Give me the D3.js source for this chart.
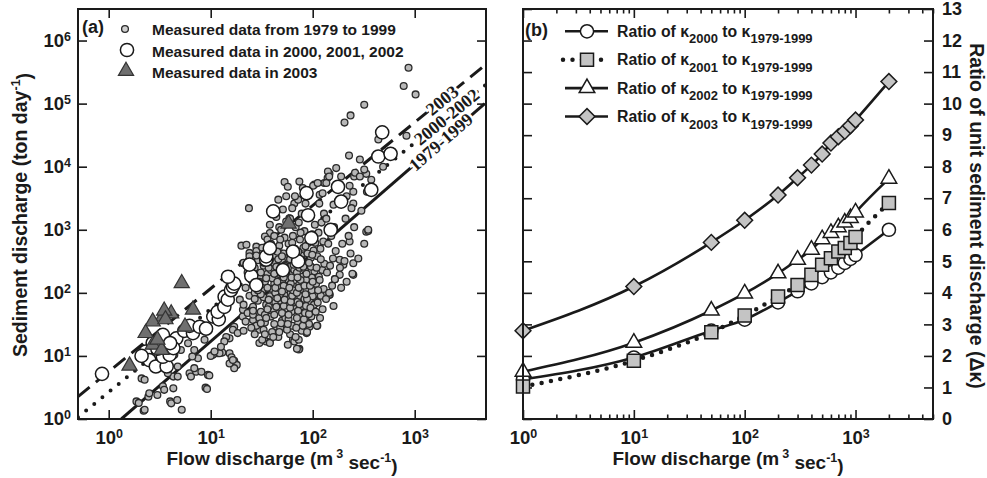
<!DOCTYPE html>
<html>
<head>
<meta charset="utf-8">
<script src="https://cdn.jsdelivr.net/npm/d3@7"></script>
<style>
body{margin:0;background:#fff;}
svg text{font-family:"Liberation Sans",Arial,sans-serif;font-weight:bold;fill:#1a1a1a;}
.tick line{stroke:#1a1a1a;stroke-width:1.6;}
.lbl{font-family:"Liberation Serif","Times New Roman",serif !important;}
</style>
</head>
<body>
<svg id="chart" width="987" height="478"></svg>
<script>
// ---------- panel (a) data : [flow discharge, sediment discharge] ----------
const pts7999 = [
 [1.87,1.9],[2.2,1.35],[2.25,1.4],[1.97,1.8],[2.45,2.26],[2.5,2.55],[3.0,2.4],[3.4,3.3],[3.5,2.9],[4.0,1.9],
 [4.1,1.77],[4.7,2.0],[5.2,1.4],[4.3,3.06],[8.9,3.14],[9.2,3.0],[2.1,4.4],[2.25,4.2],[4.3,4.7],[4.75,4.7],
 [6.2,5.3],[6.4,4.7],[7.2,5.6],[8.1,5.6],[9.4,5.0],[9.7,4.9],[6.9,6.4],[4.75,6.8],[3.8,5.3],
 [15.3,11],[16,9.5],[17,8.4],[18,7.2],[17,6.4],[15.3,7.6],[16.5,8.6],[11.7,11],[10.5,10.4],[13,11.3],
 [12.2,11],[7.5,9.2],[10,10],[20.6,42],[17,29],[16.5,26],[18.4,23],[15.3,19],[14.2,20],[13.6,17],
 [12.6,14],[10.9,11.7],[5.1,12.4],[4.4,10.4],[6.6,9.8],[6.0,15.9],[8.7,18],[6.9,12.4],[20,560],[20.7,54],
 [19.3,78],[22.4,580],[23.7,2200],[20.7,295],[38,890],[53,5700],
 [26,37],[30,26],[35,17],[30,16],[38,16.5],[44,29],[55,27],[64,18],[74,13],[93,29],[87,42],[117,90],
 [147,93],[250,193],[250,295],[335,930],[350,960],[230,650],[200,280],[184,335],[165,165],[184,193],
 [145,93],[126,98],[110,98],[100,82],[90,42],[78,42],[111,30],[87,23],[66,17],[73,12.7],
 [870,370000],[780,190000],[1020,140000],[320,96000],[235,65000],[205,50000],[830,31000],[227,15000],
 [290,13000],[335,7700],[255,7000],[170,9500],[146,7700],[140,6600],[190,7000],[130,5500],[250,4000],
 [375,6200],[490,10000],[117,3600],[320,9000],[215,3400],[250,2600],[350,1000],[440,27000],
 [24,430],[28,540],[34,780],[47,1100],[59,1520],[66,2600],[72,3000],[55,3400],[80,4600],[104,5200],
 [136,5500],[141,8400],[74,5800],
 [21,25],[22,35],[23,48],[21,65],[24,90],[22,120],[25,160],[23,210],[21,300],[24,380],[26,45],
 [27,22],[28,30],[26,60],[29,75],[27,100],[28,135],[30,180],[27,250],[29,330],[28,460],[30,40],[26,140],
 [32,18],[33,26],[34,34],[31,50],[35,65],[33,85],[32,110],[34,150],[36,200],[33,270],[35,360],[32,520],
 [36,700],[34,45],[31,95],
 [38,16],[40,24],[42,32],[39,42],[41,55],[43,70],[38,88],[40,115],[42,140],[44,175],[39,230],[41,300],
 [43,390],[40,520],[42,800],[38,1200],[44,1600],[37,60],[43,100],[40,170],
 [46,20],[48,28],[50,36],[52,46],[47,58],[49,74],[53,92],[46,120],[51,150],[54,190],[48,250],[50,320],
 [52,420],[47,560],[53,750],[49,1000],[55,1350],[51,2100],[46,3000],[54,40],[48,85],[52,130],[46,200],[55,280],
 [57,15],[60,22],[63,30],[58,38],[62,50],[65,62],[59,80],[61,100],[67,125],[58,160],[64,200],[60,260],
 [66,340],[62,450],[58,600],[64,800],[68,1100],[60,1500],[63,2200],[67,3400],[57,4800],[65,70],[61,140],
 [66,230],[59,380],
 [70,13],[73,18],[78,25],[72,33],[76,44],[80,56],[71,72],[75,90],[82,110],[74,140],[79,180],[84,230],
 [72,300],[77,390],[81,520],[75,700],[83,950],[73,1300],[78,1800],[85,2600],[76,60],[83,80],[70,210],
 [88,24],[92,32],[97,42],[90,55],[95,70],[100,88],[87,110],[93,140],[98,175],[104,220],[89,280],[96,360],
 [102,470],[91,620],[99,850],[105,1200],[94,1600],[101,5000],[103,65],[86,160],
 [110,30],[118,40],[125,55],[112,70],[120,90],[128,115],[108,140],[115,180],[124,230],[130,290],[111,380],
 [119,500],[127,650],[114,900],[122,1300],[129,1800],[116,2600],[125,3800],[112,5500],
 [160,62],[135,80],[145,100],[155,130],[165,165],[138,210],[148,270],[158,350],[168,460],[142,600],
 [152,800],[162,1100],[136,1500],[160,2500],[145,7000],
 [190,120],[215,150],[245,200],[185,250],[205,320],[235,420],[195,600],[225,800],[255,1100],[210,1500],
 [240,2200],[195,3000],[230,5000],[260,8000],[280,350],[320,600],[300,2000],[340,4000],[290,7000],
 // dense core
 [25,28],[26,52],[27,80],[29,110],[30,150],[31,210],[33,300],[25,200],[28,390],[31,33],
 [34,22],[35,40],[36,55],[37,78],[36,120],[35,170],[37,250],[38,330],[36,450],[39,600],
 [41,20],[42,45],[44,60],[45,82],[43,120],[45,150],[42,200],[44,260],[46,340],[45,450],
 [47,24],[49,33],[50,48],[52,62],[53,78],[50,105],[52,175],[49,210],[53,270],[50,380],[48,700],
 [56,26],[57,32],[58,45],[60,58],[61,72],[63,90],[64,110],[59,120],[62,175],[65,280],[60,340],[67,500],[63,620],
 [68,20],[69,28],[70,40],[72,52],[74,66],[70,100],[73,120],[76,160],[71,175],[74,250],[78,330],[72,450],[76,900],
 [80,30],[82,38],[84,48],[86,62],[88,80],[85,95],[83,130],[87,200],[81,260],[89,420],[85,550],
 [92,46],[95,58],[98,110],[94,130],[100,150],[96,260],[92,300],[99,400],[107,50],[113,110],[117,160],
 [109,250],[120,340],[106,620]
];
const pts0002 = [
 [0.86,5.2],[2.3,11.7],[2.5,8.6],[2.9,6.8],[3.7,6.8],[3.4,9.7],[3.96,10.4],[2.7,16],[3.4,21.5],[4.6,19],
 [4.3,13.3],[3.0,13],[2.1,10],[4.0,16],[5.5,25],[6.7,23],[6.2,30],[7.8,29],[9,27],[10.6,42],[12,38],
 [11.7,50],[13.6,60],[13.7,87],[14.7,78],[15.8,110],[16.5,126],[17,140],[14.8,180],[25,186],[28,133],
 [24,280],[35,335],[35,380],[38,510],[51,230],[72,315],[64,450],[97,740],[41,1950],[87,3800],[90,1700],
 [150,1000],[177,4800],[190,2800],[375,4300],[440,14500],[580,16000],[480,35000]
];
const pts2003 = [
 [1.6,7],[5.2,142],[6.7,54],[5.6,29],[3.4,42],[4.1,47],[3.5,52],[2.7,35],[2.3,23],[2.7,15],[3.3,12.4],
 [3.0,18],[3.6,38],[58,1250]
];
// regression lines (end points) and label anchor discharge
const line7999 = [[1.33,1],[4860,100000]];
const line0002 = [[0.5,1.07],[5000,200000]];
const line2003 = [[0.5,2.26],[5000,420000]];
const lineNames = ["2003","2000-2002","1979-1999"];
const labelQ = [1850,2050,1800];

// ---------- panel (b) data ----------
const qB = [1,10,50,100,200,300,400,500,600,700,800,900,1000,2000];
const r2000 = [1.25,1.95,2.8,3.15,3.7,4.05,4.3,4.5,4.65,4.8,4.95,5.08,5.2,6.0];
const r2001 = [1.03,1.85,2.75,3.28,3.88,4.25,4.57,4.89,5.1,5.31,5.42,5.58,5.77,6.85];
const r2002 = [1.5,2.42,3.44,3.98,4.62,5.05,5.37,5.7,5.9,6.08,6.23,6.37,6.55,7.62];
const r2003 = [2.8,4.2,5.6,6.3,7.1,7.65,8.05,8.4,8.75,8.95,9.12,9.3,9.48,10.7];
const legB = ["2000","2001","2002","2003"];

const ink = "#1a1a1a";
const svg = d3.select("#chart");

function powTicks(g){
  g.selectAll(".tick text").each(function(d){
    const t = d3.select(this);
    t.text(null);
    t.append("tspan").text("10");
    t.append("tspan").attr("dy","-0.5em").attr("font-size",12.5).text(Math.round(Math.log10(d)));
  });
}
function noDomain(g){ g.select(".domain").remove(); }

// ================= panel (a) =================
const A = {l:78, r:486, t:9, b:419};
const xa = d3.scaleLog().domain([0.5,5000]).range([A.l,A.r]);
const ya = d3.scaleLog().domain([1,Math.pow(10,6.5)]).range([A.b,A.t]);
const decXa = [1,10,100,1000];
const decYa = [1,10,100,1e3,1e4,1e5,1e6];

const ga = svg.append("g");
ga.append("defs").append("clipPath").attr("id","clipA")
  .append("rect").attr("x",A.l).attr("y",A.t).attr("width",A.r-A.l).attr("height",A.b-A.t);

ga.append("g").attr("transform","translate(0,"+A.b+")")
  .call(d3.axisBottom(xa).tickValues(decXa).tickSize(-9).tickPadding(12))
  .call(noDomain).call(powTicks).attr("font-size",18.5);
ga.append("g").attr("transform","translate(0,"+A.t+")")
  .call(d3.axisTop(xa).tickValues(decXa).tickSize(-9).tickFormat(""))
  .call(noDomain);
ga.append("g").attr("transform","translate("+A.l+",0)")
  .call(d3.axisLeft(ya).tickValues(decYa).tickSize(-9).tickPadding(7))
  .call(noDomain).call(powTicks).attr("font-size",18.5);
ga.append("g").attr("transform","translate("+A.r+",0)")
  .call(d3.axisRight(ya).tickValues(decYa).tickSize(-9).tickFormat(""))
  .call(noDomain);

// regression lines
const lineA = d3.line().x(d => xa(d[0])).y(d => ya(d[1]));
const lineSet = [line2003, line0002, line7999];
const lineDash = ["15 8", "0 10.5", null];
const lg = ga.append("g").attr("clip-path","url(#clipA)");
lineSet.forEach((ln,i) => {
  lg.append("path").attr("d",lineA(ln)).attr("fill","none").attr("stroke",ink)
    .attr("stroke-width", i==1 ? 4 : 3)
    .attr("stroke-linecap", i==1 ? "round" : "butt")
    .attr("stroke-dasharray", lineDash[i]);
});
lineSet.forEach((ln,i) => {
  const x0 = xa(ln[0][0]), y0 = ya(ln[0][1]), x1 = xa(ln[1][0]), y1 = ya(ln[1][1]);
  const px = xa(labelQ[i]);
  const py = y0 + (y1-y0)*(px-x0)/(x1-x0);
  const ang = Math.atan2(y1-y0, x1-x0)*180/Math.PI;
  ga.append("text").attr("class","lbl")
    .attr("transform","translate("+px+","+py+") rotate("+ang+")")
    .attr("text-anchor","middle").attr("dy","0.35em")
    .attr("font-size",18)
    .attr("stroke","#fff").attr("stroke-width",5).attr("paint-order","stroke")
    .text(lineNames[i]);
});

// measured points
const triA = d3.symbol().type(d3.symbolTriangle).size(100);
ga.append("g").selectAll("circle").data(pts7999).join("circle")
  .attr("cx",d => xa(d[0])).attr("cy",d => ya(d[1])).attr("r",3.4)
  .attr("fill","#b8b8b8").attr("stroke","#2a2a2a").attr("stroke-width",1.3);
ga.append("g").selectAll("circle").data(pts0002).join("circle")
  .attr("cx",d => xa(d[0])).attr("cy",d => ya(d[1])).attr("r",6.6)
  .attr("fill","#fff").attr("stroke",ink).attr("stroke-width",1.5);
ga.append("g").selectAll("path").data(pts2003).join("path")
  .attr("d",triA).attr("transform",d => "translate("+xa(d[0])+","+ya(d[1])+")")
  .attr("fill","#6f6f6f").attr("stroke","#333").attr("stroke-width",1.2);

ga.append("rect").attr("x",A.l).attr("y",A.t).attr("width",A.r-A.l).attr("height",A.b-A.t)
  .attr("fill","none").attr("stroke",ink).attr("stroke-width",2);

// legend (a)
ga.append("text").attr("x",82).attr("y",33).attr("font-size",18).text("(a)");
ga.append("circle").attr("cx",125).attr("cy",29).attr("r",3.4)
  .attr("fill","#d0d0d0").attr("stroke","#2a2a2a").attr("stroke-width",1.3);
ga.append("circle").attr("cx",127).attr("cy",50).attr("r",6.6)
  .attr("fill","#fff").attr("stroke",ink).attr("stroke-width",1.5);
ga.append("path").attr("d",triA).attr("transform","translate(126,71)")
  .attr("fill","#6f6f6f").attr("stroke","#333").attr("stroke-width",1.2);
["Measured data from 1979 to 1999","Measured data in 2000, 2001, 2002","Measured data in 2003"]
  .forEach((s,i) => ga.append("text").attr("x",152).attr("y",35+i*21.5).attr("font-size",15.5).text(s));

// axis titles (a)
const tA = ga.append("text").attr("text-anchor","middle").attr("font-size",19.5)
  .attr("transform","translate(27,215) rotate(-90)");
tA.append("tspan").text("Sediment discharge (ton day");
tA.append("tspan").attr("dy","-0.55em").attr("font-size",12.5).text("-1");
tA.append("tspan").attr("dy","0.55em").text(")");

function flowTitle(g, cx){
  const t = g.append("text").attr("x",cx).attr("y",465).attr("text-anchor","middle").attr("font-size",19);
  t.append("tspan").text("Flow discharge (m");
  t.append("tspan").attr("dy","-0.55em").attr("dx",3).attr("font-size",12.5).text("3");
  t.append("tspan").attr("dy","0.55em").text(" sec");
  t.append("tspan").attr("dy","-0.55em").attr("font-size",12.5).text("-1");
  t.append("tspan").attr("dy","0.55em").text(")");
}
flowTitle(ga, (A.l+A.r)/2);

// ================= panel (b) =================
const B = {l:523, r:933, t:9, b:419};
const xb = d3.scaleLog().domain([1,5000]).range([B.l,B.r]);
const yb = d3.scaleLinear().domain([0,13]).range([B.b,B.t]);
const decXb = [1,10,100,1000];
const minXb = xb.ticks().filter(v => decXb.indexOf(v) < 0);
const yTicksB = d3.range(0,14);

const gb = svg.append("g");
gb.append("g").attr("transform","translate(0,"+B.b+")")
  .call(d3.axisBottom(xb).tickValues(decXb).tickSize(-9).tickPadding(12))
  .call(noDomain).call(powTicks).attr("font-size",18.5);
gb.append("g").attr("transform","translate(0,"+B.b+")")
  .call(d3.axisBottom(xb).tickValues(minXb).tickSize(-4.5).tickFormat(""))
  .call(noDomain);
gb.append("g").attr("transform","translate(0,"+B.t+")")
  .call(d3.axisTop(xb).tickValues(decXb).tickSize(-9).tickFormat(""))
  .call(noDomain);
gb.append("g").attr("transform","translate(0,"+B.t+")")
  .call(d3.axisTop(xb).tickValues(minXb).tickSize(-4.5).tickFormat(""))
  .call(noDomain);
gb.append("g").attr("transform","translate("+B.l+",0)")
  .call(d3.axisLeft(yb).tickValues(yTicksB).tickSize(-9).tickFormat(""))
  .call(noDomain);
gb.append("g").attr("transform","translate("+B.r+",0)")
  .call(d3.axisRight(yb).tickValues(yTicksB).tickSize(-9).tickPadding(9))
  .call(noDomain).attr("font-size",18);

const curveB = d3.line().x(d => xb(d[0])).y(d => yb(d[1])).curve(d3.curveMonotoneX);
const seriesB = [r2000, r2001, r2002, r2003];
const dashB = [null, "0 9.5", null, null];
seriesB.forEach((s,i) => {
  gb.append("path").attr("d",curveB(qB.map((q,j) => [q,s[j]]))).attr("fill","none")
    .attr("stroke",ink).attr("stroke-width", i==1 ? 4.5 : 2.6)
    .attr("stroke-linecap", i==1 ? "round" : "butt")
    .attr("stroke-dasharray", dashB[i]);
});

const symB = [
  d3.symbol().type(d3.symbolCircle).size(Math.PI*6.6*6.6),
  d3.symbol().type(d3.symbolSquare).size(170),
  d3.symbol().type(d3.symbolTriangle).size(105),
  d3.symbol().type(d3.symbolSquare).size(125)
];
const fillB = ["#fff","#c4c4c4","#fff","#c4c4c4"];
const rotB = [0,0,0,45];
function markB(g, i, x, y){
  g.append("path").attr("d",symB[i]())
    .attr("transform","translate("+x+","+y+") rotate("+rotB[i]+")")
    .attr("fill",fillB[i]).attr("stroke",ink).attr("stroke-width",1.5);
}
[0,1,2,3].forEach(i => {
  const mg = gb.append("g");
  qB.forEach((q,j) => markB(mg, i, xb(q), yb(seriesB[i][j])));
});

gb.append("rect").attr("x",B.l).attr("y",B.t).attr("width",B.r-B.l).attr("height",B.b-B.t)
  .attr("fill","none").attr("stroke",ink).attr("stroke-width",2);

// legend (b)
gb.append("text").attr("x",525).attr("y",36).attr("font-size",18).text("(b)");
legB.forEach((yr,i) => {
  const ry = 31.3 + i*28.4;
  gb.append("line").attr("x1", i==1 ? 563 : 565).attr("x2", 608).attr("y1",ry).attr("y2",ry)
    .attr("stroke",ink).attr("stroke-width", i==1 ? 4.5 : 2.6)
    .attr("stroke-linecap", i==1 ? "round" : "butt")
    .attr("stroke-dasharray", dashB[i]);
  markB(gb, i, 587, ry);
  const t = gb.append("text").attr("x",617).attr("y",ry+5.5).attr("font-size",15.8);
  t.append("tspan").text("Ratio of \u03ba");
  t.append("tspan").attr("dy",6.5).attr("font-size",13).text(yr);
  t.append("tspan").attr("dy",-6.5).text(" to \u03ba");
  t.append("tspan").attr("dy",6.5).attr("font-size",13).text("1979-1999");
});

// axis titles (b)
flowTitle(gb, (B.l+B.r)/2);
gb.append("text").attr("text-anchor","middle").attr("font-size",19.5)
  .attr("transform","translate(970,216) rotate(90)")
  .text("Ratio of unit sediment discharge (\u0394\u03ba)");
</script>
</body>
</html>
